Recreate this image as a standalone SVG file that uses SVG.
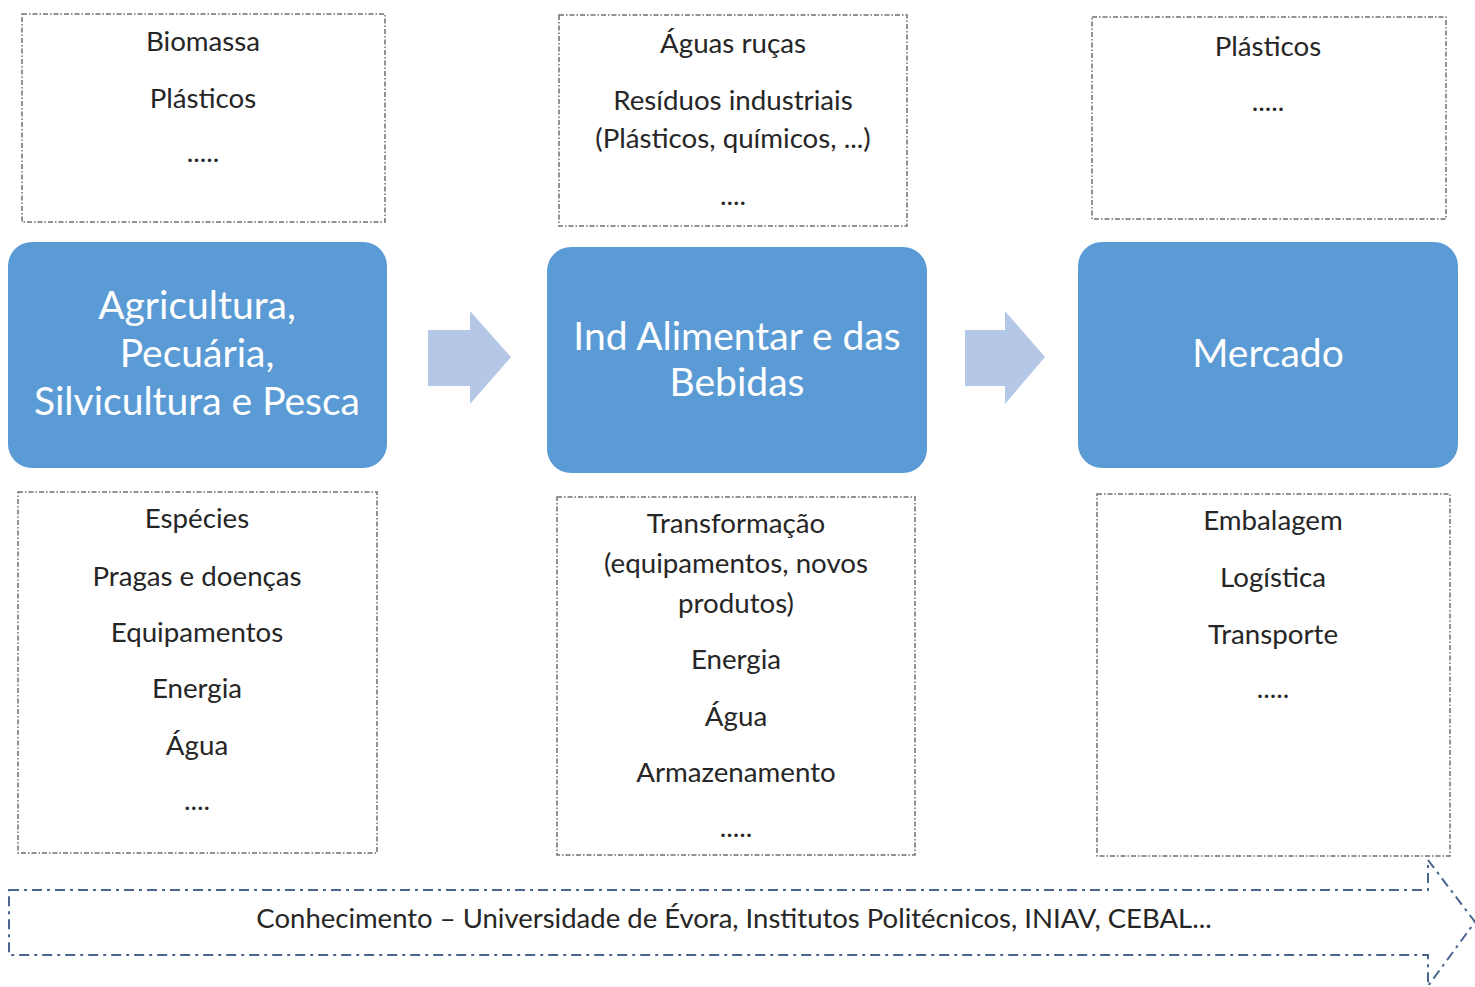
<svg xmlns="http://www.w3.org/2000/svg" width="1475" height="987" viewBox="0 0 1475 987">
<style>
.box{fill:#fff;stroke:#6f6f6f;stroke-width:1.5;stroke-dasharray:5 2 1.5 2}
.blue{fill:#5B9BD5}
.t{font-family:Lato,"Open Sans",sans-serif;font-size:27.7px;fill:#262626;text-anchor:middle}
.w{font-family:Lato,"Open Sans",sans-serif;font-size:39px;fill:#fff;text-anchor:middle}
.arr{fill:#B4C7E7}
.big{fill:#fff;stroke:#4A6690;stroke-width:2;stroke-dasharray:10 5 3 5}
</style>
<rect width="1475" height="987" fill="#fff"/>
<g id="connectors">
<polygon class="arr" points="428,330 470,330 470,311 511,357 470,404 470,386 428,386"/>
<polygon class="arr" points="965,330 1005,330 1005,311 1045,357 1005,404 1005,386 965,386"/>
</g>
<g id="top-left"><rect class="box" x="22" y="14" width="363" height="208"/>
<text class="t" x="203" y="51">Biomassa</text><text class="t" x="203" y="108">Plásticos</text><text class="t" x="203" y="162">.....</text></g>
<g id="top-middle"><rect class="box" x="559" y="15" width="348" height="211"/>
<text class="t" x="733" y="53">Águas ruças</text><text class="t" x="733" y="110">Resíduos industriais</text><text class="t" x="733" y="148">(Plásticos, químicos, ...)</text><text class="t" x="733" y="205">....</text></g>
<g id="top-right"><rect class="box" x="1092" y="17" width="354" height="202"/>
<text class="t" x="1268" y="56">Plásticos</text><text class="t" x="1268" y="111">.....</text></g>
<g id="agri"><rect class="blue" x="8" y="242" width="379" height="226" rx="24"/>
<text class="w" x="197" y="319">Agricultura,</text><text class="w" x="197" y="367">Pecuária,</text><text class="w" x="197" y="415">Silvicultura e Pesca</text></g>
<g id="ind"><rect class="blue" x="547" y="247" width="380" height="226" rx="24"/>
<text class="w" x="737" y="350">Ind Alimentar e das</text><text class="w" x="737" y="396">Bebidas</text></g>
<g id="mercado"><rect class="blue" x="1078" y="242" width="380" height="226" rx="24"/>
<text class="w" x="1268" y="367">Mercado</text></g>
<g id="bottom-left"><rect class="box" x="18" y="492" width="359" height="361"/>
<text class="t" x="197" y="528">Espécies</text><text class="t" x="197" y="586">Pragas e doenças</text><text class="t" x="197" y="642">Equipamentos</text><text class="t" x="197" y="698">Energia</text><text class="t" x="197" y="755">Água</text><text class="t" x="197" y="810">....</text></g>
<g id="bottom-middle"><rect class="box" x="557" y="497" width="358" height="358"/>
<text class="t" x="736" y="533">Transformação</text><text class="t" x="736" y="573">(equipamentos, novos</text><text class="t" x="736" y="613">produtos)</text><text class="t" x="736" y="669">Energia</text><text class="t" x="736" y="726">Água</text><text class="t" x="736" y="782">Armazenamento</text><text class="t" x="736" y="837">.....</text></g>
<g id="bottom-right"><rect class="box" x="1097" y="494" width="353" height="362"/>
<text class="t" x="1273" y="530">Embalagem</text><text class="t" x="1273" y="587">Logística</text><text class="t" x="1273" y="644">Transporte</text><text class="t" x="1273" y="698">.....</text></g>
<g id="conhecimento"><polygon class="big" points="9,890 1428,890 1428,860 1475,922 1428,986 1428,955 9,955"/>
<text class="t" x="734" y="928" style="font-size:27.5px">Conhecimento – Universidade de Évora, Institutos Politécnicos, INIAV, CEBAL...</text></g>
</svg>
